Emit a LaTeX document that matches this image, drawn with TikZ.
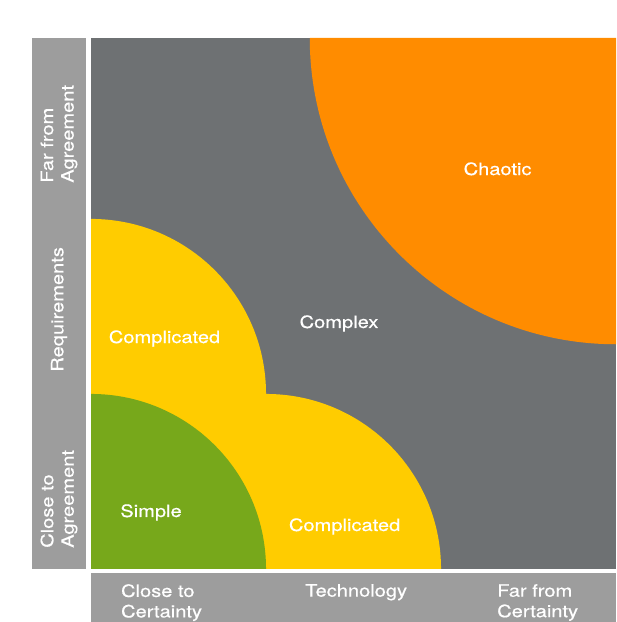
\documentclass[tikz,border=0pt]{standalone}
\usepackage{fontspec}
\setmainfont[FakeStretch=1.18, FakeBold=0.5]{TeX Gyre Heros}
\usepackage{tikz}
\usetikzlibrary{positioning}

\definecolor{slate}{HTML}{6E7173}
\definecolor{bargray}{HTML}{9D9D9D}
\definecolor{chaosorange}{HTML}{FF8C00}
\definecolor{compyellow}{HTML}{FFCC00}
\definecolor{simplegreen}{HTML}{77A81B}

\begin{document}
\begin{tikzpicture}[
  x=175pt, y=175pt,
  zone/.style={text=white, inner sep=0pt, font=\fontsize{17}{20.5}\selectfont},
  barlabel/.style={zone, align=left},
  sidelabel/.style={barlabel, rotate=90, anchor=west},
  footlabel/.style={barlabel, anchor=north west}
]
\useasboundingbox (-0.52,-0.303) rectangle (3,3.251);
\clip (-0.52,-0.303) rectangle (3,3.251);

% Bars
\fill[bargray] (-0.337,0) rectangle (-0.029,3.034);
\fill[bargray] (0,-0.023) rectangle (3,-0.4);

% Field
\fill[slate] (0,0) rectangle (3,3.034);
\fill[chaosorange] (1.25,3.034) arc[start angle=180, end angle=270, radius=1.75] -- (3,3.034) -- cycle;
\fill[compyellow] (0,0) -- (2,0) arc[start angle=0, end angle=90, radius=1]
  arc[start angle=0, end angle=90, radius=1] -- cycle;
\fill[simplegreen] (0,0) -- (1,0) arc[start angle=0, end angle=90, radius=1] -- cycle;

% Zones
\node[zone, anchor=base] (chaotic) at (2.323,2.251) {Chaotic};
\node[zone, anchor=base] (complex) at (1.417,1.377) {Complex};
\node[zone, anchor=base] (compUp) at (0.42,1.291) {Complicated};
\node[zone, anchor=base] (simple) at (0.343,0.297) {Simple};
\node[zone, anchor=base] (compLow) at (1.449,0.217) {Complicated};

% Requirements axis
\node[sidelabel] (farAgree) at (-0.183,2.206) {Far from\\Agreement};
\node[sidelabel] (req) at (-0.183,1.126) {Requirements};
\node[sidelabel] (closeAgree) at (-0.183,0.12) {Close to\\Agreement};

% Technology axis
\node[footlabel] (closeCert) at (0.171,-0.086) {Close to\\Certainty};
\node[footlabel] (tech) at (1.223,-0.086) {Technology};
\node[footlabel] (farCert) at (2.32,-0.086) {Far from\\Certainty};

\end{tikzpicture}
\end{document}
